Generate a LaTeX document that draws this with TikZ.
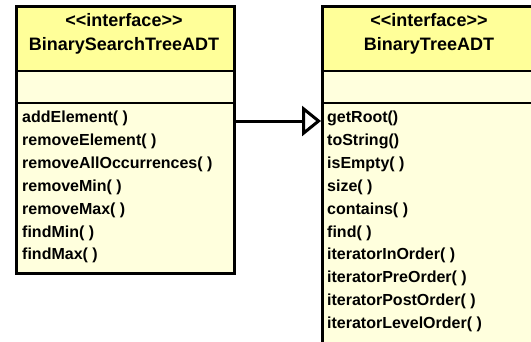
\documentclass[tikz,border=0pt]{standalone}
\usepackage{fontspec}
\setmainfont{Liberation Sans}[Ligatures=TeXOff]
\usetikzlibrary{arrows.meta}
\definecolor{hdrfill}{HTML}{FFFF99}
\definecolor{bodyfill}{HTML}{FFFFDD}
\begin{document}
\begin{tikzpicture}[x=1pt,y=-1pt,
  hdr/.style={fill=hdrfill},
  body/.style={fill=bodyfill},
  rule/.style={line width=2pt},
  frame/.style={draw, line width=3pt, inner sep=0pt, anchor=north west},
  title/.style={font=\bfseries\fontsize{18}{20}\selectfont, inner sep=0pt},
  op/.style={font=\bfseries\fontsize{16}{18}\selectfont, anchor=base west, inner sep=0pt},
  realize/.style={line width=3pt, -{Triangle[open, length=19pt, width=30pt, line width=3pt]}},
]
\useasboundingbox (0,0) rectangle (531,341);
\clip (0,0) rectangle (531,341);

% BinarySearchTreeADT
\fill[hdr] (15,5) rectangle (233,71);
\fill[body] (15,71) rectangle (233,272);
\draw[rule] (15,71) -- (233,71);
\draw[rule] (15,103) -- (233,103);
\node[frame, minimum width=218pt, minimum height=267pt] (bst) at (15,5) {};
\node[title] (bstst) at (124,20) {<<interface>>};
\node[title] (bstname) at (124,46) {BinarySearchTreeADT};
\foreach \t [count=\i from 0] in {addElement( ), removeElement( ), removeAllOccurrences( ),
    removeMin( ), removeMax( ), findMin( ), findMax( )}
  \node[op] (bstop\i) at (22,{122.5+22.9*\i}) {\t};

% BinaryTreeADT
\fill[hdr] (321,5) rectangle (537,71);
\fill[body] (321,71) rectangle (537,360);
\draw[rule] (321,71) -- (537,71);
\draw[rule] (321,103) -- (537,103);
\node[frame, minimum width=216pt, minimum height=345pt] (bt) at (321,5) {};
\node[title] (btst) at (429,20) {<<interface>>};
\node[title] (btname) at (429,46) {BinaryTreeADT};
\foreach \t [count=\i from 0] in {getRoot(), toString(), isEmpty( ), size( ), contains( ),
    find( ), iteratorInOrder( ), iteratorPreOrder( ), iteratorPostOrder( ), iteratorLevelOrder( )}
  \node[op] (btop\i) at (327,{122.5+22.9*\i}) {\t};

% interface realization
\coordinate (from) at (bst.east |- 0,121);
\coordinate (to) at (bt.west |- 0,121);
\draw[realize] (from) -- (to);
\end{tikzpicture}
\end{document}
